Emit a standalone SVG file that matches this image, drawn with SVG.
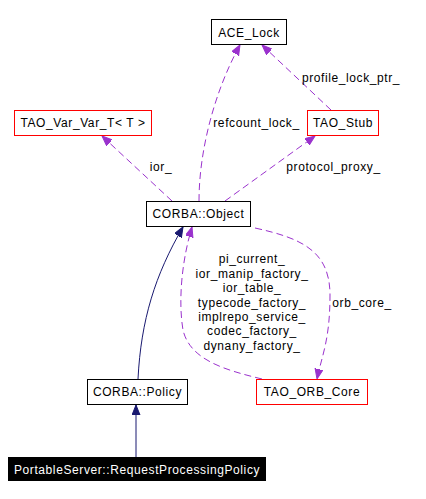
<svg xmlns="http://www.w3.org/2000/svg" width="426" height="499" viewBox="0 0 426 499">
<style>
text{font-family:"Liberation Sans",Arial,sans-serif;font-size:12px;letter-spacing:0.6px;text-anchor:middle;fill:#000}
.box{fill:#fff;stroke:#000;stroke-width:1}
.red{fill:#fff;stroke:#ff0000;stroke-width:1}
.inh{fill:none;stroke:#191970;stroke-width:1}
.use{fill:none;stroke:#9a32cd;stroke-width:1;stroke-dasharray:7,4}
</style>
<defs>
<marker id="an" markerUnits="userSpaceOnUse" markerWidth="12" markerHeight="9" refX="10" refY="4" orient="auto" viewBox="0 0 12 9">
<path d="M0,0 L10,4 L0,8 z" fill="#191970" stroke="#191970"/>
</marker>
<marker id="ap" markerUnits="userSpaceOnUse" markerWidth="12" markerHeight="9" refX="10" refY="4" orient="auto" viewBox="0 0 12 9">
<path d="M0,0 L10,4 L0,8 z" fill="#9a32cd" stroke="#9a32cd"/>
</marker>
</defs>
<rect width="426" height="499" fill="#fff"/>
<g id="edges">
<path class="inh" d="M136,457 L136,405" marker-end="url(#an)"/>
<path class="inh" d="M138,379 C141,320 155,275 183,227" marker-end="url(#an)"/>
<path class="use" d="M199,201 C199,150 215,90 240,45" marker-end="url(#ap)"/>
<path class="use" d="M331,110 L262,45" marker-end="url(#ap)"/>
<path class="use" d="M172,201 L102,136" marker-end="url(#ap)"/>
<path class="use" d="M225,201 L315,136" marker-end="url(#ap)"/>
<path class="use" d="M255,228 C300,238 330,250 330,295 C330,340 322,355 317,379" marker-end="url(#ap)"/>
<path class="use" d="M262,379 C225,370 190,360 183,330 C178,300 182,260 192,227" marker-end="url(#ap)"/>
<text x="256.5" y="127">refcount_lock_</text>
<text x="351" y="82">profile_lock_ptr_</text>
<text x="161" y="171">ior_</text>
<text x="333.5" y="171">protocol_proxy_</text>
<text x="362" y="307">orb_core_</text>
<text x="252" y="263">pi_current_</text>
<text x="252" y="278">ior_manip_factory_</text>
<text x="252" y="292">ior_table_</text>
<text x="252" y="307">typecode_factory_</text>
<text x="252" y="321">implrepo_service_</text>
<text x="252" y="335">codec_factory_</text>
<text x="252" y="350">dynany_factory_</text>
</g>
<g id="ACE_Lock"><rect class="box" x="211.5" y="19.5" width="75" height="25"/><text x="249" y="37">ACE_Lock</text></g>
<g id="TAO_Var_Var_T"><rect class="red" x="14.5" y="110.5" width="137" height="25"/><text x="83" y="127">TAO_Var_Var_T&lt; T &gt;</text></g>
<g id="TAO_Stub"><rect class="red" x="307.5" y="110.5" width="71" height="25"/><text x="343" y="127">TAO_Stub</text></g>
<g id="CORBA_Object"><rect class="box" x="146.5" y="201.5" width="104" height="25"/><text x="198.5" y="218">CORBA::Object</text></g>
<g id="CORBA_Policy"><rect class="box" x="87.5" y="379.5" width="100" height="25"/><text x="137.5" y="396">CORBA::Policy</text></g>
<g id="TAO_ORB_Core"><rect class="red" x="256.5" y="379.5" width="111" height="25"/><text x="312" y="396">TAO_ORB_Core</text></g>
<g id="RequestProcessingPolicy"><rect x="8" y="457" width="258" height="24" fill="#000"/><text x="137" y="474" style="fill:#fff">PortableServer::RequestProcessingPolicy</text></g>
</svg>
